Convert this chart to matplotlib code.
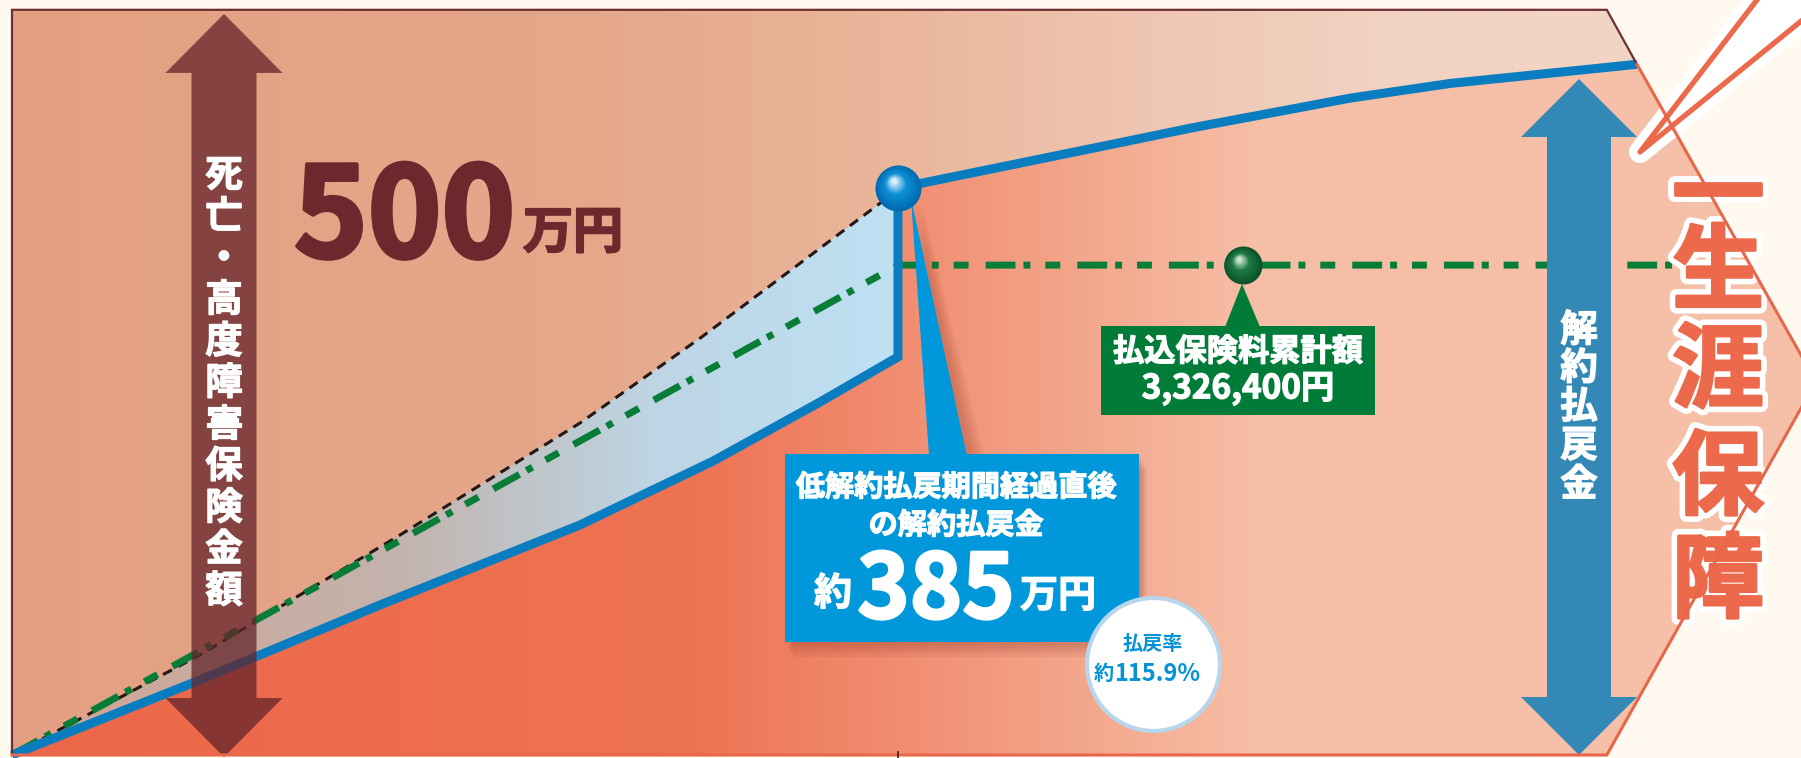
import numpy as np
import matplotlib
matplotlib.use('Agg')
import matplotlib.pyplot as plt
from matplotlib.patches import Polygon, Rectangle
from matplotlib.colors import to_rgb
import matplotlib.patheffects as pe

plt.rcParams['font.family'] = ['Noto Sans CJK JP', 'DejaVu Sans']

# データ（x: 経過年数の目安, y: 金額 万円）
cv_low_years = [0, 2.12, 4.15, 6.41, 7.91, 9.12, 10.0]
cv_low_values = [0, 50.9, 101.8, 156.2, 199.5, 239.7, 270.3]
cv_after_years = [10.0, 12.28, 13.33, 15.10, 16.23, 18.34]
cv_after_values = [385, 413, 426, 446, 456, 469]
ref_years = [0, 2.12, 4.38, 6.41, 7.77, 9.80, 10.0]
ref_values = [0, 67.9, 149.4, 225.4, 283.2, 374.8, 383.6]
prem_years = [0, 10.0, 19.6]
prem_values = [0, 332.64, 332.64]
prem_ball_year = 13.89
death_benefit = 500
premium_total_yen = 3326400
cv_label = 385
refund_rate = 115.9
frame_top = 506
frame_end_year = 18.0
tip_year, tip_value = 20.36, 253.6

# ピクセル換算（装飾の配置用）
SX = 88.6
SY = 1.4727
def P(xp, yp):
    return ((xp - 12) / SX, (755 - yp) / SY)
def dx(p):
    return p / SX
def dy(p):
    return p / SY
def fs(px):
    return px * 0.72

fig = plt.figure(figsize=(18.01, 7.58), dpi=100, facecolor='#FFF9EF')
ax = fig.add_axes([0, 0, 1, 1])
X0, Y1 = P(0, 0)
X1, Y0 = P(1801, 758)
ax.set_xlim(X0, X1)
ax.set_ylim(Y0, Y1)
ax.axis('off')


def hgrad(stops_px, colors, clip_xy, z):
    xs = np.arange(1801)
    rgb = np.array([to_rgb(c) for c in colors])
    img = np.stack([np.interp(xs, stops_px, rgb[:, k]) for k in range(3)], axis=-1)[None, :, :]
    im = ax.imshow(img, extent=[X0, X1, Y0, Y1], aspect='auto', origin='lower',
                   interpolation='bilinear', zorder=z)
    clip = Polygon(clip_xy, closed=True, transform=ax.transData)
    im.set_clip_path(clip)
    return im


frame_xy = [(0, 0), (0, frame_top), (frame_end_year, frame_top), (tip_year, tip_value), (frame_end_year, 0)]

# 上側の背景
hgrad([12, 600, 900, 1100, 1400, 1801],
      ['#E39F82', '#E5A88B', '#EAB69C', '#EEC3AE', '#F2D3C3', '#F2D5C6'], frame_xy, 1)

# 解約払戻金より下の領域
cv_years = cv_low_years + cv_after_years
cv_values = cv_low_values + cv_after_values
lower_xy = list(zip(cv_years, cv_values)) + [(tip_year, tip_value), (frame_end_year, 0)]
hgrad([12, 400, 700, 900, 1100, 1250, 1801],
      ['#EC6748', '#ED6D4E', '#EE7454', '#F18D71', '#F3A98E', '#F6BEA6', '#F6C0A8'], lower_xy, 2)

# 低解約期間の水色の帯
band_xy = list(zip(ref_years, ref_values)) + list(zip(cv_low_years[::-1], cv_low_values[::-1]))
hgrad([12, 400, 650, 898], ['#D2A494', '#C3B3AD', '#BDD5E4', '#BEE1F3'], band_xy, 3)

# 線
ax.plot(ref_years, ref_values, color='#231815', lw=2.2, ls=(0, (3.3, 2.3)), zorder=4)
ax.plot(prem_years, prem_values, color='#077D37', lw=5, ls=(0, (4.3, 1.15, 1, 2.15, 2.15, 2.45)),
        dash_capstyle='butt', zorder=5)
ax.plot(cv_years, cv_values, color='#0A7DC1', lw=6.5, solid_joinstyle='miter',
        solid_capstyle='butt', zorder=6)


def double_arrow(cx, bot, top, shaft, head, hlen, color, alpha, z):
    pts = [(cx, top), (cx + head, top - hlen), (cx + shaft, top - hlen), (cx + shaft, bot + hlen),
           (cx + head, bot + hlen), (cx, bot), (cx - head, bot + hlen), (cx - shaft, bot + hlen),
           (cx - shaft, top - hlen), (cx - head, top - hlen)]
    ax.add_patch(Polygon(pts, closed=True, facecolor=color, edgecolor='none', alpha=alpha, zorder=z))


def vtext(x, ys_px, s, size, color, z, **kw):
    for yp, ch in zip(ys_px, s):
        ax.text(x, P(0, yp)[1], ch, ha='center', va='center', fontsize=size, color=color,
                fontweight='bold', zorder=z, **kw)


thick_white = [pe.withStroke(linewidth=0.9, foreground='white')]

# 死亡・高度障害保険金額の矢印
ax_c = P(224, 0)[0]
double_arrow(ax_c, -1.4, death_benefit + 3.2, dx(32.5), dx(58.5), dy(59), '#64242A', 0.75, 7)
label_l = '死亡・高度障害保険金額'
vtext(ax_c, np.linspace(175, 591, len(label_l)), label_l, 27, 'white', 7.5, path_effects=thick_white)

# 500万円
ax.text(P(294, 0)[0], P(0, 257)[1], f'{death_benefit}', fontsize=fs(125), fontweight='bold',
        color='#6B292E', ha='left', va='baseline', zorder=7.5,
        path_effects=[pe.withStroke(linewidth=3, foreground='#6B292E')])
ax.text(P(523, 0)[0], P(0, 248)[1], '万円', fontsize=fs(50), fontweight='bold',
        color='#6B292E', ha='left', va='baseline', zorder=7.5,
        path_effects=[pe.withStroke(linewidth=1.5, foreground='#6B292E')])

# 解約払戻金の矢印
ar_c = P(1579, 0)[0]
double_arrow(ar_c, 0, P(0, 79)[1], dx(32), dx(58), dy(58), '#3388B6', 1, 8)
label_r = '解約払戻金'
vtext(ar_c, [330, 368, 406.5, 445.5, 484.5], label_r, 27, 'white', 8.5, path_effects=thick_white)

# 吹き出し（低解約払戻期間経過直後）
for k, o in enumerate([3, 6, 9, 12, 15]):
    ax.add_patch(Rectangle(P(785 + o * 0.5, 642 + o), dx(354), dy(188), facecolor='#8A2E1C',
                           edgecolor='none', alpha=0.07, zorder=9))
    ax.add_patch(Polygon([P(913 + o * 0.6, 205), P(931 + o, 455), P(969 + o, 455)],
                         facecolor='#8A2E1C', edgecolor='none', alpha=0.06, zorder=9))
ax.add_patch(Polygon([P(911, 198), P(929, 456), P(967, 456)], facecolor='#0098DB',
                     edgecolor='none', zorder=10))
ax.add_patch(Rectangle(P(785, 642), dx(354), dy(188), facecolor='#0098DB', edgecolor='none', zorder=10))
ax.text(P(956, 0)[0], P(0, 487)[1], '低解約払戻期間経過直後', fontsize=21, fontweight='bold',
        color='white', ha='center', va='center', zorder=10.5, path_effects=thick_white)
ax.text(P(956, 0)[0], P(0, 525)[1], 'の解約払戻金', fontsize=21, fontweight='bold',
        color='white', ha='center', va='center', zorder=10.5, path_effects=thick_white)
ax.text(P(852, 0)[0], P(0, 605)[1], '約', fontsize=fs(38), fontweight='bold',
        color='white', ha='right', va='baseline', zorder=10.5, path_effects=thick_white)
ax.text(P(936, 0)[0], P(0, 618)[1], f'{cv_label}', fontsize=fs(89), fontweight='bold',
        color='white', ha='center', va='baseline', zorder=10.5,
        path_effects=[pe.withStroke(linewidth=2, foreground='white')])
ax.text(P(1020, 0)[0], P(0, 607)[1], '万円', fontsize=fs(38), fontweight='bold',
        color='white', ha='left', va='baseline', zorder=10.5, path_effects=thick_white)

# 払戻率のバッジ
bx, by = P(1153, 663.5)
ax.scatter([bx], [by], s=(1.44 * 66.5) ** 2, facecolor='white', edgecolor='#B7D6EC',
           linewidths=3, zorder=11)
ax.text(bx, P(0, 643)[1], '払戻率', fontsize=14.5, fontweight='bold', color='#0592D6',
        ha='center', va='center', zorder=11.5)
ax.text(P(1114, 0)[0], P(0, 680)[1], '約', fontsize=14.5, fontweight='bold', color='#0592D6',
        ha='right', va='baseline', zorder=11.5)
ax.text(P(1114, 0)[0], P(0, 681)[1], f'{refund_rate}%', fontsize=17, fontweight='bold',
        color='#0592D6', ha='left', va='baseline', zorder=11.5)


def sphere(x, y, r, c_edge, c_mid, c_hi, z):
    n = 24
    cols = [to_rgb(c_edge), to_rgb(c_mid), to_rgb(c_hi)]
    for i in range(n):
        t = i / (n - 1)
        if t < 0.6:
            u = t / 0.6
            col = [cols[0][k] * (1 - u) + cols[1][k] * u for k in range(3)]
        else:
            u = (t - 0.6) / 0.4
            col = [cols[1][k] * (1 - u) + cols[2][k] * u for k in range(3)]
        rr = r * (1 - 0.88 * t)
        off = t * 0.32 * r
        ax.scatter([x - dx(off * 0.6)], [y + dy(off)], s=(1.44 * rr) ** 2, color=col,
                   linewidths=0, zorder=z + i * 0.001)


sphere(cv_after_years[0], cv_after_values[0], 23, '#0069AE', '#0E91D8', '#D4EEFA', 12)
sphere(prem_ball_year, prem_values[-1], 19, '#0A5229', '#1E7A45', '#C9E2D2', 12)

# 払込保険料累計額のラベル
ax.add_patch(Polygon([P(1242, 284), P(1225, 327), P(1260, 327)], facecolor='#007B38',
                     edgecolor='none', zorder=12))
ax.add_patch(Rectangle(P(1101, 415), dx(274), dy(89), facecolor='#007B38', edgecolor='none', zorder=12))
ax.text(P(1238, 0)[0], P(0, 352)[1], '払込保険料累計額', fontsize=22.5, fontweight='bold',
        color='white', ha='center', va='center', zorder=12.5, path_effects=thick_white)
ax.text(P(1238, 0)[0], P(0, 389)[1], f'{premium_total_yen:,}円', fontsize=24, fontweight='bold',
        color='white', ha='center', va='center', zorder=12.5, path_effects=thick_white)

# 一生涯保障
tipw = P(1640, 152)
e1 = P(1803, -60)
e2 = P(1880, -43)
ax.add_patch(Polygon([tipw, e1, e2], closed=True, facecolor='white', edgecolor='white',
                     lw=16, joinstyle='round', zorder=13))
ax.plot([e1[0], tipw[0], e2[0]], [e1[1], tipw[1], e2[1]], color='#EC6A4B', lw=3.8,
        solid_joinstyle='round', zorder=13.2)
big_fx = [pe.Stroke(linewidth=10, foreground='white'),
          pe.Stroke(linewidth=2, foreground='#EC6A4B'), pe.Normal()]
big_x = P(1718, 0)[0]
# 「一生」は詰めて1つのテキストに
ax.text(big_x, P(0, 236)[1], '一\n生', ha='center', va='center', fontsize=fs(92), linespacing=0.76,
        fontweight='bold', color='#EC6A4B', zorder=13.5, path_effects=big_fx)
for yp, ch in zip([373, 480, 583], '涯保障'):
    ax.text(big_x, P(0, yp)[1], ch, ha='center', va='center', fontsize=fs(92),
            fontweight='bold', color='#EC6A4B', zorder=13.5, path_effects=big_fx)

# 枠線
brown = '#6E2F31'
orange = '#E8674A'
ax.plot([0, 0, frame_end_year, cv_after_years[-1]], [0, frame_top, frame_top, cv_after_values[-1]],
        color=brown, lw=1.6, zorder=14, solid_joinstyle='miter')
ax.plot([cv_after_years[-1], tip_year, frame_end_year, 0], [cv_after_values[-1], tip_value, 0, 0],
        color=orange, lw=2.2, zorder=14, solid_joinstyle='miter')
ax.plot([cv_low_years[-1]] * 2, [-2, 2], color='#5A2A26', lw=1.4, zorder=14)

fig.savefig('out.png', dpi=100, facecolor=fig.get_facecolor())
